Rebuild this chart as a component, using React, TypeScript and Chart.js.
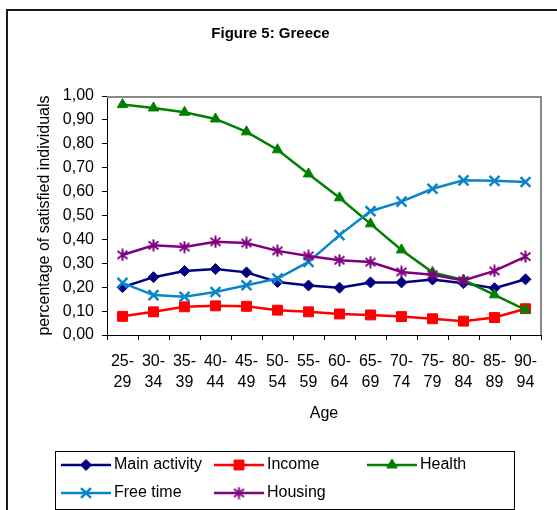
import React, { useEffect, useRef } from 'react';
import { Chart, registerables } from 'chart.js';
import { drawPoint } from 'chart.js/helpers';

Chart.register(...registerables);

// Age groups (two-line category labels)
const ageGroups: string[][] = [
  ['25-', '29'], ['30-', '34'], ['35-', '39'], ['40-', '44'], ['45-', '49'],
  ['50-', '54'], ['55-', '59'], ['60-', '64'], ['65-', '69'], ['70-', '74'],
  ['75-', '79'], ['80-', '84'], ['85-', '89'], ['90-', '94'],
];

// Share of satisfied individuals per domain
const mainActivity = [0.200, 0.242, 0.268, 0.276, 0.262, 0.222, 0.207, 0.198, 0.220, 0.220, 0.232, 0.217, 0.196, 0.233];
const income = [0.078, 0.097, 0.118, 0.122, 0.120, 0.104, 0.097, 0.088, 0.084, 0.077, 0.068, 0.058, 0.073, 0.110];
const health = [0.964, 0.950, 0.932, 0.904, 0.850, 0.775, 0.674, 0.574, 0.465, 0.356, 0.262, 0.230, 0.168, 0.105];
const freeTime = [0.218, 0.167, 0.160, 0.180, 0.208, 0.236, 0.306, 0.418, 0.518, 0.558, 0.612, 0.647, 0.645, 0.640];
const housing = [0.335, 0.375, 0.368, 0.390, 0.385, 0.352, 0.331, 0.313, 0.305, 0.264, 0.252, 0.228, 0.268, 0.328];

const seriesNames = ['Main activity', 'Income', 'Health', 'Free time', 'Housing'];

const FONT = '"Liberation Sans", Arial, Helvetica, sans-serif';

// Excel-style asterisk marker: an X crossed by a vertical stroke
function makeAsterisk(color: string): HTMLCanvasElement {
  const c = document.createElement('canvas');
  c.width = 13;
  c.height = 13;
  const g = c.getContext('2d')!;
  g.strokeStyle = color;
  g.lineWidth = 2;
  g.beginPath();
  g.moveTo(6.5, 0.5); g.lineTo(6.5, 12.5);
  g.moveTo(1.5, 2.5); g.lineTo(11.5, 10.5);
  g.moveTo(11.5, 2.5); g.lineTo(1.5, 10.5);
  g.stroke();
  return c;
}

const formatTick = (v: number) => v.toFixed(2).replace('.', ',');

// Gray border on the top and right of the plot area
const plotFramePlugin = {
  id: 'plotFrame',
  beforeDatasetsDraw(chart: any) {
    const { ctx, chartArea: a } = chart;
    ctx.save();
    ctx.strokeStyle = '#8a8a8a';
    ctx.lineWidth = 2;
    ctx.beginPath();
    ctx.moveTo(a.left, a.top + 1);
    ctx.lineTo(a.right, a.top + 1);
    ctx.lineTo(a.right, a.bottom);
    ctx.stroke();
    ctx.restore();
  },
};

// Outer chart frame plus the boxed legend underneath the axis
const legendPlugin = {
  id: 'boxLegend',
  afterDraw(chart: any) {
    const ctx: CanvasRenderingContext2D = chart.ctx;
    ctx.save();
    ctx.strokeStyle = '#1a1a1a';
    ctx.lineWidth = 2;
    ctx.beginPath();
    ctx.moveTo(7, 512);
    ctx.lineTo(7, 10);
    ctx.lineTo(560, 10);
    ctx.stroke();

    ctx.strokeStyle = '#000';
    ctx.lineWidth = 1;
    ctx.strokeRect(55.5, 451.5, 459, 58);

    const cols = [61, 214, 367];
    const rows = [465, 493];
    const order = chart.data.datasets;
    order.forEach((ds: any, i: number) => {
      const x = cols[i % 3];
      const y = rows[Math.floor(i / 3)];
      ctx.strokeStyle = ds.borderColor;
      ctx.lineWidth = ds.borderWidth;
      ctx.beginPath();
      ctx.moveTo(x, y);
      ctx.lineTo(x + 50, y);
      ctx.stroke();
      ctx.fillStyle = ds.pointBackgroundColor;
      ctx.strokeStyle = ds.pointBorderColor;
      ctx.lineWidth = ds.pointBorderWidth;
      drawPoint(ctx, {
        pointStyle: ds.pointStyle,
        radius: ds.pointRadius,
        borderWidth: ds.pointBorderWidth,
        rotation: 0,
      } as any, x + 25, y);
      ctx.fillStyle = '#000';
      ctx.font = `16px ${FONT}`;
      ctx.textAlign = 'left';
      ctx.textBaseline = 'middle';
      ctx.fillText(ds.label, x + 53, y);
    });
    ctx.restore();
  },
};

export default function App() {
  const canvasRef = useRef<HTMLCanvasElement>(null);

  useEffect(() => {
    const canvas = canvasRef.current;
    if (!canvas) return;
    const star = makeAsterisk('#800080');

    const chart = new Chart(canvas, {
      type: 'line',
      data: {
        labels: ageGroups,
        datasets: [
          {
            label: seriesNames[0], data: mainActivity,
            borderColor: '#000080', backgroundColor: '#000080',
            borderWidth: 2.5, pointStyle: 'rectRot', pointRadius: 5.5,
            pointBackgroundColor: '#000080', pointBorderColor: '#000080', pointBorderWidth: 1,
            order: 5,
          },
          {
            label: seriesNames[1], data: income,
            borderColor: '#ff0000', backgroundColor: '#ff0000',
            borderWidth: 2.5, pointStyle: 'rect', pointRadius: 7,
            pointBackgroundColor: '#ff0000', pointBorderColor: '#ff0000', pointBorderWidth: 1,
            order: 4,
          },
          {
            label: seriesNames[2], data: health,
            borderColor: '#008000', backgroundColor: '#008000',
            borderWidth: 2.5, pointStyle: 'triangle', pointRadius: 6,
            pointBackgroundColor: '#008000', pointBorderColor: '#008000', pointBorderWidth: 1,
            order: 3,
          },
          {
            label: seriesNames[3], data: freeTime,
            borderColor: '#0a86c8', backgroundColor: '#0a86c8',
            borderWidth: 2.5, pointStyle: 'crossRot', pointRadius: 7,
            pointBackgroundColor: '#0a86c8', pointBorderColor: '#0a86c8', pointBorderWidth: 2.5,
            order: 2,
          },
          {
            label: seriesNames[4], data: housing,
            borderColor: '#800080', backgroundColor: '#800080',
            borderWidth: 2.5, pointStyle: star, pointRadius: 6,
            pointBackgroundColor: '#800080', pointBorderColor: '#800080', pointBorderWidth: 2,
            order: 1,
          },
        ],
      },
      options: {
        responsive: false,
        animation: false,
        devicePixelRatio: 1,
        layout: { padding: { left: 0, right: 16, top: 0, bottom: 0 } },
        elements: { line: { tension: 0 } },
        plugins: {
          legend: { display: false },
          tooltip: { enabled: false },
          title: {
            display: true,
            text: 'Figure 5: Greece',
            color: '#000',
            font: { family: FONT, size: 15, weight: 'bold', lineHeight: 1.2 },
            padding: { top: 25, bottom: 53 },
          },
        },
        scales: {
          x: {
            type: 'category',
            offset: true,
            grid: {
              offset: true,
              drawOnChartArea: false,
              drawTicks: true,
              tickLength: 5,
              tickColor: '#000',
            },
            border: { color: '#000', width: 1 },
            ticks: {
              color: '#000',
              font: { family: FONT, size: 16, lineHeight: 1.3125 },
              padding: 11.5,
              maxRotation: 0,
              autoSkip: false,
            },
            title: {
              display: true,
              text: 'Age',
              color: '#000',
              font: { family: FONT, size: 16, lineHeight: 1.2 },
              padding: { top: 0, bottom: 86.4 },
            },
            afterFit(scale: any) { scale.height = 175; },
          },
          y: {
            min: 0,
            max: 1,
            grid: {
              drawOnChartArea: false,
              drawTicks: true,
              tickLength: 5,
              tickColor: '#000',
            },
            border: { color: '#000', width: 1 },
            ticks: {
              stepSize: 0.1,
              color: '#000',
              font: { family: FONT, size: 16 },
              padding: 8,
              callback: (v: any) => formatTick(Number(v)),
            },
            title: {
              display: true,
              text: 'percentage of satisfied individuals',
              color: '#000',
              font: { family: FONT, size: 16, lineHeight: 1.2 },
              padding: { top: 35.4, bottom: 0 },
            },
            afterFit(scale: any) { scale.width = 107; },
          },
        },
      },
      plugins: [plotFramePlugin, legendPlugin],
    });

    return () => chart.destroy();
  }, []);

  return (
    <div style={{ position: 'absolute', left: 0, top: 0, width: 557, height: 510, background: '#fff' }}>
      <canvas ref={canvasRef} width={557} height={510} style={{ display: 'block' }} />
    </div>
  );
}
